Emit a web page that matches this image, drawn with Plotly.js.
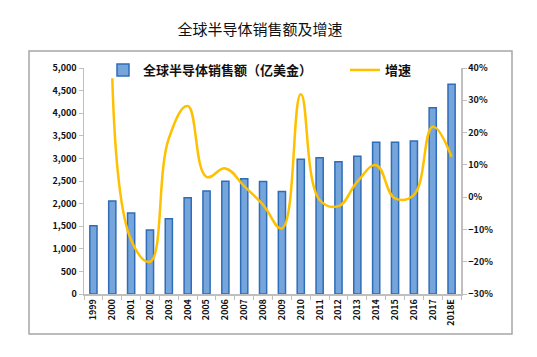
<!DOCTYPE html>
<html>
<head>
<meta charset="utf-8">
<script src="https://cdn.plot.ly/plotly-3.0.1.min.js"></script>
<style>
html,body{margin:0;padding:0;background:#fff;}
#chart{width:537px;height:357px;}
</style>
</head>
<body>
<div id="chart"></div>
<script>
const years = ["1999","2000","2001","2002","2003","2004","2005","2006","2007","2008","2009","2010","2011","2012","2013","2014","2015","2016","2017","2018E"];
const sales = [1510, 2060, 1790, 1415, 1665, 2130, 2280, 2495, 2550, 2490, 2270, 2980, 3015, 2925, 3045, 3355, 3355, 3385, 4120, 4640];
const growth = [null, 0.368, -0.133, -0.200, 0.182, 0.282, 0.063, 0.089, 0.034, -0.024, -0.097, 0.319, -0.009, -0.028, 0.048, 0.099, -0.004, 0.007, 0.218, 0.125];
const barName = "全球半导体销售额（亿美金）";
const lineName = "增速";

const fontCJK = "'Noto Sans CJK SC', 'Noto Sans', sans-serif";

const traces = [
  {
    type: "bar", x: years, y: sales, name: barName,
    marker: {color: "#76a5dc", line: {color: "#2f6db8", width: 1.5}},
    yaxis: "y", legend: "legend"
  },
  {
    type: "scatter", mode: "lines", x: years, y: growth, name: lineName,
    line: {color: "#ffc000", width: 2.5, shape: "spline", smoothing: 1.2},
    yaxis: "y2", connectgaps: false, legend: "legend2"
  }
];

const legFont = {family: fontCJK, size: 13, color: "#111", weight: "bold"};

const layout = {
  width: 537, height: 357,
  margin: {l: 84, r: 76, t: 68, b: 63},
  paper_bgcolor: "#ffffff", plot_bgcolor: "#ffffff",
  font: {family: fontCJK, color: "#1a1a1a", size: 9},
  title: {text: "全球半导体销售额及增速", x: 260/537, xanchor: "center", y: 1 - 30/357, yanchor: "middle",
          font: {family: fontCJK, size: 15, color: "#111"}},
  bargap: 0.62,
  showlegend: true,
  legend: {orientation: "h", x: (103-84)/377, xanchor: "left", y: (294-70)/226, yanchor: "middle",
           bgcolor: "rgba(0,0,0,0)", font: legFont, itemwidth: 30},
  legend2: {orientation: "h", x: (345-84)/377, xanchor: "left", y: (294-70)/226, yanchor: "middle",
           bgcolor: "rgba(0,0,0,0)", font: legFont, itemwidth: 30},
  xaxis: {
    type: "category", tickangle: -90, showgrid: false, showline: true, linecolor: "#bfbfbf", linewidth: 1.5,
    ticks: "outside", tickson: "boundaries", ticklen: 4, tickcolor: "#bfbfbf",
    tickfont: {size: 9, color: "#111", weight: "bold"}, automargin: false
  },
  yaxis: {
    range: [0, 5000], dtick: 500, tickformat: ",d", showgrid: false, zeroline: false,
    showline: true, linecolor: "#bfbfbf", linewidth: 1.5, ticks: "outside", ticklen: 4, tickcolor: "#bfbfbf",
    tickfont: {size: 9, color: "#111", weight: "bold"}, automargin: false
  },
  yaxis2: {
    overlaying: "y", side: "right", range: [-0.3, 0.4], dtick: 0.1, tickformat: ".0%",
    showgrid: false, zeroline: false, showline: true, linecolor: "#bfbfbf", linewidth: 1.5,
    ticks: "outside", ticklen: 4, tickcolor: "#bfbfbf",
    tickfont: {size: 9, color: "#111", weight: "bold"}, automargin: false
  },
  shapes: [
    {type: "rect", xref: "paper", yref: "paper",
     x0: (29-84)/377, x1: (512-84)/377, y0: (294-334)/226, y1: (294-51)/226,
     line: {color: "#a6a6a6", width: 1.5}, fillcolor: "rgba(0,0,0,0)", layer: "below"}
  ]
};

Plotly.newPlot("chart", traces, layout, {displayModeBar: false, staticPlot: true});
</script>
</body>
</html>
